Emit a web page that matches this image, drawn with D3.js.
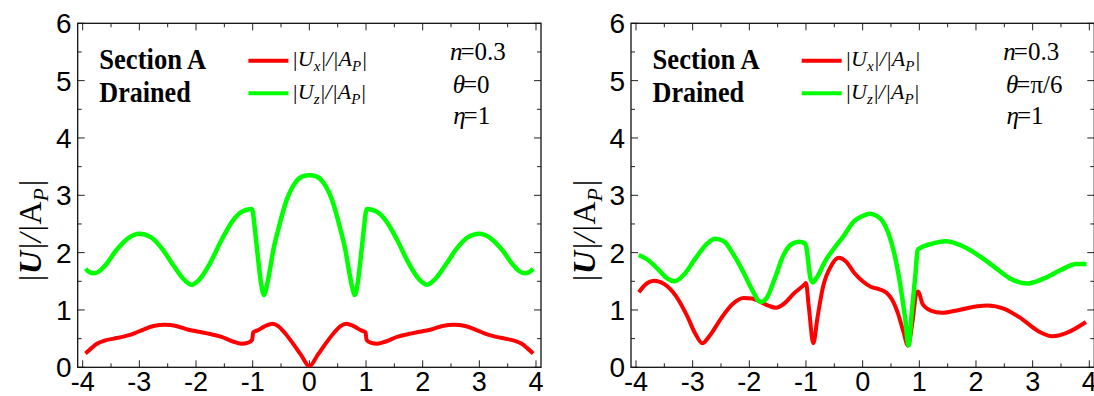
<!DOCTYPE html>
<html>
<head>
<meta charset="utf-8">
<script src="https://cdn.jsdelivr.net/npm/d3@7"></script>
<style>
  body { margin: 0; background: #fff; }
  svg { display: block; }
</style>
</head>
<body>
<svg id="chart" width="1094" height="396"></svg>
<script>
// tick values
const xTicks = [-4, -3, -2, -1, 0, 1, 2, 3, 4];
const yTicks = [0, 1, 2, 3, 4, 5, 6];

// theta = 0 panel
const leftUx = [
  [-3.95, 0.24], [-3.85, 0.33], [-3.75, 0.41], [-3.6, 0.47], [-3.45, 0.50], [-3.3, 0.53],
  [-3.15, 0.57], [-2.95, 0.65], [-2.75, 0.72], [-2.55, 0.74], [-2.35, 0.72], [-2.15, 0.66],
  [-1.95, 0.62], [-1.75, 0.58], [-1.55, 0.53], [-1.35, 0.45], [-1.2, 0.41], [-1.08, 0.43],
  [-1.01, 0.48], [-0.99, 0.61], [-0.9, 0.65], [-0.8, 0.71], [-0.65, 0.76], [-0.55, 0.72],
  [-0.45, 0.62], [-0.3, 0.43], [-0.15, 0.22], [0, 0.02],
  [0.15, 0.22], [0.3, 0.43], [0.45, 0.62], [0.55, 0.72], [0.65, 0.76], [0.8, 0.71],
  [0.9, 0.65], [0.99, 0.61], [1.01, 0.48], [1.08, 0.43], [1.2, 0.41], [1.35, 0.45],
  [1.55, 0.53], [1.75, 0.58], [1.95, 0.62], [2.15, 0.66], [2.35, 0.72], [2.55, 0.74],
  [2.75, 0.72], [2.95, 0.65], [3.15, 0.57], [3.3, 0.53], [3.45, 0.50], [3.6, 0.47],
  [3.75, 0.41], [3.85, 0.33], [3.95, 0.24]
];
const leftUz = [
  [-3.95, 1.72], [-3.88, 1.66], [-3.8, 1.64], [-3.7, 1.68], [-3.6, 1.78], [-3.4, 2.05],
  [-3.2, 2.25], [-3.0, 2.33], [-2.8, 2.27], [-2.6, 2.07], [-2.4, 1.78], [-2.2, 1.52],
  [-2.08, 1.44], [-1.95, 1.52], [-1.75, 1.82], [-1.55, 2.22], [-1.35, 2.56], [-1.2, 2.71],
  [-1.02, 2.76], [-1.0, 2.72], [-0.96, 2.40], [-0.9, 1.85], [-0.85, 1.45], [-0.8, 1.26],
  [-0.76, 1.38], [-0.7, 1.68], [-0.635, 2.05], [-0.55, 2.40], [-0.4, 2.92], [-0.25, 3.22],
  [-0.12, 3.33], [0, 3.35],
  [0.12, 3.33], [0.25, 3.22], [0.4, 2.92], [0.55, 2.40], [0.635, 2.05], [0.7, 1.68],
  [0.76, 1.38], [0.8, 1.26], [0.85, 1.45], [0.9, 1.85], [0.96, 2.40], [1.0, 2.72],
  [1.02, 2.76], [1.2, 2.71], [1.35, 2.56], [1.55, 2.22], [1.75, 1.82], [1.95, 1.52],
  [2.08, 1.44], [2.2, 1.52], [2.4, 1.78], [2.6, 2.07], [2.8, 2.27], [3.0, 2.33],
  [3.2, 2.25], [3.4, 2.05], [3.6, 1.78], [3.7, 1.68], [3.8, 1.64], [3.88, 1.66], [3.95, 1.72]
];

// theta = pi/6 panel
const rightUx = [
  [-3.95, 1.31], [-3.8, 1.47], [-3.68, 1.51], [-3.5, 1.45], [-3.3, 1.25], [-3.1, 0.90],
  [-2.95, 0.58], [-2.83, 0.42], [-2.7, 0.55], [-2.5, 0.85], [-2.3, 1.10], [-2.1, 1.21],
  [-1.95, 1.20], [-1.8, 1.14], [-1.65, 1.07], [-1.53, 1.04], [-1.4, 1.10], [-1.2, 1.30],
  [-1.02, 1.45], [-1.0, 1.47], [-0.95, 1.05], [-0.87, 0.42], [-0.8, 0.85], [-0.7, 1.40],
  [-0.55, 1.78], [-0.42, 1.91], [-0.3, 1.85], [-0.15, 1.65], [0.0, 1.50], [0.15, 1.40],
  [0.3, 1.36], [0.42, 1.30], [0.52, 1.18], [0.62, 0.95], [0.72, 0.62], [0.8, 0.38],
  [0.88, 0.80], [0.95, 1.30], [0.98, 1.32], [1.06, 1.10], [1.2, 0.99], [1.4, 0.95],
  [1.7, 1.00], [2.0, 1.06], [2.2, 1.08], [2.5, 1.02], [2.8, 0.85], [3.1, 0.63],
  [3.35, 0.54], [3.6, 0.60], [3.94, 0.79]
];
const rightUz = [
  [-3.95, 1.96], [-3.8, 1.88], [-3.6, 1.70], [-3.45, 1.55], [-3.32, 1.50], [-3.15, 1.62],
  [-2.95, 1.90], [-2.75, 2.15], [-2.6, 2.24], [-2.45, 2.20], [-2.3, 2.00], [-2.1, 1.65],
  [-1.95, 1.35], [-1.8, 1.14], [-1.7, 1.20], [-1.55, 1.55], [-1.4, 1.95], [-1.25, 2.15],
  [-1.12, 2.19], [-1.02, 2.16], [-1.0, 2.12], [-0.92, 1.55], [-0.88, 1.48], [-0.82, 1.55],
  [-0.65, 1.87], [-0.5, 2.08], [-0.35, 2.27], [-0.15, 2.55], [0.0, 2.64], [0.12, 2.68],
  [0.25, 2.64], [0.35, 2.55], [0.45, 2.35], [0.55, 2.02], [0.65, 1.52], [0.75, 0.85],
  [0.81, 0.38], [0.87, 1.00], [0.93, 1.60], [0.97, 2.04], [1.0, 2.07], [1.2, 2.15],
  [1.47, 2.20], [1.75, 2.12], [2.0, 1.98], [2.3, 1.77], [2.6, 1.55], [2.9, 1.46],
  [3.2, 1.55], [3.5, 1.70], [3.77, 1.80], [3.95, 1.80]
];

const thetaLabels = ["0", "\u03C0/6"];

const svg = d3.select("#chart");
const serif = "'Liberation Serif', 'Times New Roman', serif";
const sans = "'Liberation Sans', Arial, sans-serif";

function drawPanel(fx, ux, uz, thetaText, idx) {
  const fy0 = 23.3, fy1 = 367.3, fw = 463.3;
  const x = d3.scaleLinear().domain([-4.088, 4.088]).range([fx, fx + fw]);
  const y = d3.scaleLinear().domain([0, 6]).range([fy1, fy0]);

  const g = svg.append("g");

  svg.append("clipPath").attr("id", "clip" + idx)
    .append("rect").attr("x", fx).attr("y", fy0).attr("width", fw).attr("height", fy1 - fy0);

  // inward ticks on all four sides
  const xMinor = d3.range(-4, 4.01, 0.5);
  const yMinor = d3.range(0, 6.01, 0.5);
  const tk = g.append("g").attr("stroke", "#222").attr("stroke-width", 1);
  xMinor.forEach(v => {
    const len = Number.isInteger(v) ? 7 : 4;
    tk.append("line").attr("x1", x(v)).attr("x2", x(v)).attr("y1", fy1).attr("y2", fy1 - len);
    tk.append("line").attr("x1", x(v)).attr("x2", x(v)).attr("y1", fy0).attr("y2", fy0 + len);
  });
  yMinor.forEach(v => {
    const len = Number.isInteger(v) ? 7 : 4;
    tk.append("line").attr("y1", y(v)).attr("y2", y(v)).attr("x1", fx).attr("x2", fx + len);
    tk.append("line").attr("y1", y(v)).attr("y2", y(v)).attr("x1", fx + fw).attr("x2", fx + fw - len);
  });

  // frame
  g.append("rect")
    .attr("x", fx).attr("y", fy0).attr("width", fw).attr("height", fy1 - fy0)
    .attr("fill", "none").attr("stroke", "#111").attr("stroke-width", 1.3);

  // tick labels
  g.selectAll(".xl").data(xTicks).enter().append("text")
    .attr("x", d => x(d)).attr("y", 391)
    .attr("text-anchor", "middle")
    .attr("font-family", sans).attr("font-size", 27)
    .text(d => d < 0 ? "-" + Math.abs(d) : d);
  g.selectAll(".yl").data(yTicks).enter().append("text")
    .attr("x", fx - 6).attr("y", d => y(d) + 10)
    .attr("text-anchor", "end")
    .attr("font-family", sans).attr("font-size", 28)
    .text(d => d);

  // y axis title
  const yt = g.append("text")
    .attr("transform", `translate(${fx - 36.5},231) rotate(-90)`)
    .attr("text-anchor", "middle")
    .attr("font-family", serif).attr("font-size", 32);
  yt.append("tspan").attr("font-style", "italic").text("|");
  yt.append("tspan").attr("font-style", "italic").attr("font-weight", "bold").text("U");
  yt.append("tspan").attr("font-style", "italic").text("|/|");
  yt.append("tspan").text("A");
  yt.append("tspan").attr("font-style", "italic").attr("font-size", 22).attr("dy", 7).text("P");
  yt.append("tspan").attr("font-style", "italic").attr("dy", -7).text("|");

  // curves
  const line = d3.line().x(d => x(d[0])).y(d => y(d[1])).curve(d3.curveMonotoneX);
  const cg = g.append("g").attr("clip-path", `url(#clip${idx})`);
  cg.append("path").datum(ux).attr("d", line)
    .attr("fill", "none").attr("stroke", "#ff0000").attr("stroke-width", 4)
    .attr("stroke-linejoin", "round");
  cg.append("path").datum(uz).attr("d", line)
    .attr("fill", "none").attr("stroke", "#00ff00").attr("stroke-width", 4.5)
    .attr("stroke-linejoin", "round");

  // labels top-left
  g.append("text").attr("x", fx + 21.6).attr("y", 69.3)
    .attr("font-family", serif).attr("font-weight", "bold").attr("font-size", 30)
    .attr("textLength", 107).attr("lengthAdjust", "spacingAndGlyphs")
    .text("Section A");
  g.append("text").attr("x", fx + 21.6).attr("y", 101.7)
    .attr("font-family", serif).attr("font-weight", "bold").attr("font-size", 30)
    .attr("textLength", 91.4).attr("lengthAdjust", "spacingAndGlyphs")
    .text("Drained");

  // legend
  const leg = [["x", "#ff0000", 60.7, 66], ["z", "#00ff00", 93.3, 98.5]];
  leg.forEach(([sub, col, ly, tb]) => {
    g.append("line").attr("x1", fx + 170.7).attr("x2", fx + 210.7)
      .attr("y1", ly).attr("y2", ly).attr("stroke", col).attr("stroke-width", 4);
    const t = g.append("text").attr("x", fx + 214).attr("y", tb)
      .attr("font-family", serif).attr("font-style", "italic").attr("font-size", 22);
    t.append("tspan").text("|U");
    t.append("tspan").attr("font-size", 15).attr("dy", 5).text(sub);
    t.append("tspan").attr("dy", -5).text("|/|A");
    t.append("tspan").attr("font-size", 15).attr("dy", 5).text("P");
    t.append("tspan").attr("dy", -5).text("|");
  });

  // parameters
  const p1 = g.append("text").attr("x", fx + 372.3).attr("y", 60)
    .attr("font-family", serif).attr("font-size", 25);
  p1.append("tspan").attr("font-style", "italic").text("n");
  p1.append("tspan").attr("dx", -2).text("=0.3");
  const p2 = g.append("text").attr("x", fx + 375).attr("y", 93)
    .attr("font-family", serif).attr("font-size", 25);
  p2.append("tspan").attr("font-style", "italic").text("\u03B8");
  p2.append("tspan").attr("dx", -2).text("=" + thetaText);
  const p3 = g.append("text").attr("x", fx + 375.5).attr("y", 124)
    .attr("font-family", serif).attr("font-size", 25);
  p3.append("tspan").attr("font-style", "italic").text("\u03B7");
  p3.append("tspan").attr("dx", -2).text("=1");
}

drawPanel(77.7, leftUx, leftUz, thetaLabels[0], 0);
drawPanel(631, rightUx, rightUz, thetaLabels[1], 1);
</script>
</body>
</html>
